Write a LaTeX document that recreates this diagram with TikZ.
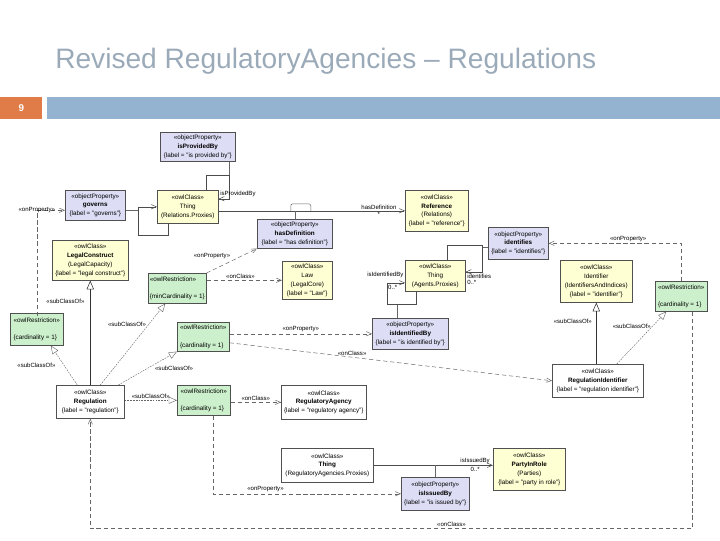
\documentclass[tikz,border=0pt]{standalone}
\usepackage{fontspec}
\setmainfont{Liberation Sans}
\usepackage{xcolor}
\usetikzlibrary{arrows, positioning, shadows, calc}

\definecolor{titlegray}{RGB}{155,170,185}
\definecolor{barblue}{RGB}{148,179,208}
\definecolor{numorange}{RGB}{224,124,72}
\definecolor{clsyellow}{RGB}{255,255,212}
\definecolor{proplav}{RGB}{221,221,245}
\definecolor{restrgreen}{RGB}{204,240,204}
\definecolor{boxline}{RGB}{80,80,80}

\newlength{\px}
\setlength{\px}{0.025cm}

\begin{document}
\begin{tikzpicture}[
    x=0.025cm, y=-0.025cm,
    font=\fontsize{4.5}{6.2}\selectfont,
    dims/.style 2 args={minimum width=#1\px, minimum height=#2\px},
    base/.style={rectangle, draw=boxline, line width=0.4pt, align=center, inner sep=1pt, anchor=north west,
        drop shadow={shadow xshift=0.8pt, shadow yshift=-0.8pt, opacity=0.35}},
    class/.style={base, fill=clsyellow},
    plain/.style={base, fill=white},
    prop/.style={base, fill=proplav},
    restr/.style={base, fill=restrgreen, align=left},
    lbl/.style={inner sep=1pt, font=\fontsize{4.3}{5}\selectfont},
    assoc/.style={->, >=angle 45, draw=black!70, line width=0.35pt},
    link/.style={draw=black!60, line width=0.35pt},
    dep/.style={->, >=angle 45, draw=black!60, dash pattern=on 3pt off 2pt, line width=0.35pt},
    inherit/.style={->, >=open triangle 45, draw=black!80, line width=0.4pt},
    restrict/.style={->, >=open triangle 45, draw=black!60, line width=0.3pt, dash pattern=on 1.2pt off 0.8pt}
]
    \useasboundingbox (0,0) rectangle (720,540);

    % Slide header
    \node[anchor=base west, inner sep=0, text=titlegray, font=\fontsize{20}{24}\selectfont] (title) at (55,68)
        {Revised RegulatoryAgencies – Regulations};
    \node[anchor=north west, inner sep=0, fill=numorange, dims={42}{22}, text=white, font=\bfseries\fontsize{7}{8}\selectfont] (pagenum) at (0,97) {9};
    \node[anchor=north west, inner sep=0, fill=barblue, dims={673}{22}] (bar) at (47,97) {};

    % Object properties
    \node[prop, dims={75}{29}] (isprov) at (160,132) {«objectProperty»\\\textbf{isProvidedBy}\\\{label = "is provided by"\}};
    \node[prop, dims={60}{30}] (governs) at (65,190) {«objectProperty»\\\textbf{governs}\\\{label = "governs"\}};
    \node[prop, dims={75}{29}] (hasdef) at (257,219) {«objectProperty»\\\textbf{hasDefinition}\\\{label = "has definition"\}};
    \node[prop, dims={60}{32}] (ident) at (488,227) {«objectProperty»\\\textbf{identifies}\\\{label = "identifies"\}};
    \node[prop, dims={76}{31}] (idby) at (372,318) {«objectProperty»\\\textbf{isIdentifiedBy}\\\{label = "is identified by"\}};
    \node[prop, dims={68}{33}] (issued) at (401,477) {«objectProperty»\\\textbf{isIssuedBy}\\\{label = "is issued by"\}};

    % Classes
    \node[class, dims={61}{33}] (thingrel) at (157,190) {«owlClass»\\Thing\\(Relations.Proxies)};
    \node[class, dims={63}{41}] (reference) at (405,190) {«owlClass»\\\textbf{Reference}\\(Relations)\\\{label = "reference"\}};
    \node[class, dims={76}{40}] (legal) at (52,240) {«owlClass»\\\textbf{LegalConstruct}\\(LegalCapacity)\\\{label = "legal construct"\}};
    \node[class, dims={50}{38}] (law) at (282,261) {«owlClass»\\Law\\(LegalCore)\\\{label = "Law"\}};
    \node[class, dims={60}{31}] (thingag) at (405,260) {«owlClass»\\Thing\\(Agents.Proxies)};
    \node[class, dims={72}{42}] (identifier) at (560,260) {«owlClass»\\Identifier\\(IdentifiersAndIndices)\\\{label = "identifier"\}};
    \node[class, dims={72}{42}] (party) at (493,448) {«owlClass»\\\textbf{PartyInRole}\\(Parties)\\\{label = "party in role"\}};
    \node[plain, dims={68}{33}] (reg) at (56,385) {«owlClass»\\\textbf{Regulation}\\\{label = "regulation"\}};
    \node[plain, dims={85}{34}] (regag) at (281,385) {«owlClass»\\\textbf{RegulatoryAgency}\\\{label = "regulatory agency"\}};
    \node[plain, dims={91}{33}] (regid) at (552,364) {«owlClass»\\\textbf{RegulationIdentifier}\\\{label = "regulation identifier"\}};
    \node[plain, dims={92}{34}] (thingra) at (281,448) {«owlClass»\\\textbf{Thing}\\(RegulatoryAgencies.Proxies)};

    % Restrictions
    \node[restr, dims={58}{30}] (minr) at (148,273) {«owlRestriction»\\~\\\{minCardinality = 1\}};
    \node[restr, dims={53}{32}] (lr) at (10,313) {«owlRestriction»\\~\\\{cardinality = 1\}};
    \node[restr, dims={52}{29}] (mr) at (177,322) {«owlRestriction»\\~\\\{cardinality = 1\}};
    \node[restr, dims={53}{30}] (lowr) at (177,385) {«owlRestriction»\\~\\\{cardinality = 1\}};
    \node[restr, dims={52}{30}] (rr) at (655,281) {«owlRestriction»\\~\\\{cardinality = 1\}};

    % Associations
    \draw[assoc] ([xshift=11\px]thingrel.south west) -- ++(0,12) -- ++(-30,0) coordinate (govloop) |- (thingrel.west);
    \draw[link] ([yshift=-5\px]governs.east) -- ([yshift=-5\px]governs.east -| govloop);
    \draw[assoc] ([xshift=-12\px]thingrel.north east) -- ++(0,-15) -- ++(23,0) coordinate (provloop) |- ([yshift=8\px]thingrel.east);
    \draw[link] (isprov.south -| provloop) -- (provloop);
    \node[lbl, anchor=west] (provlbl) at ([yshift=13\px]thingrel.east) {isProvidedBy};
    \draw[assoc] (thingrel.east |- reference.west) -- node[lbl, pos=0.86, above] {hasDefinition} node[lbl, pos=0.86, below] {*} (reference.west);
    \draw[link] (hasdef.north) -- (hasdef.north |- reference.west);
    \draw[link, rounded corners=1.5pt] ([xshift=-4\px]hasdef.north |- reference.west) -- ++(0,-7) -- ++(20,0) -- ++(0,7);
    \draw[assoc] ([xshift=11\px]thingag.south west) -- ++(0,13) -- ++(-29,0) coordinate (idloop) |- ([yshift=-7\px]thingag.west);
    \draw[link] ([xshift=-13\px]idby.north) -- ([xshift=-13\px]idby.north |- idloop);
    \node[lbl, anchor=south east] (idbylbl) at ([yshift=-4\px]thingag.west) {isIdentifiedBy};
    \node[lbl, anchor=north east] (idbymul) at ([xshift=-6\px, yshift=-8\px]thingag.west) {0..*};
    \draw[assoc] ([xshift=-18\px]thingag.north east) -- ++(0,-15) -- ++(35,0) coordinate (identloop) |- ([yshift=4\px]thingag.east);
    \draw[link] ([yshift=-4\px]ident.west) -- ([yshift=-4\px]ident.west -| identloop);
    \node[lbl, anchor=north west] (identlbl) at ([yshift=3\px]thingag.east) {identifies};
    \node[lbl, anchor=north west] (identmul) at ([yshift=-3\px]thingag.east) {0..*};
    \draw[assoc] (thingra.east) -- node[lbl, pos=0.85, above] {isIssuedBy} node[lbl, pos=0.85, below] {0..*} (thingra.east -| party.west);
    \draw[link] (issued.north) -- (issued.north |- thingra.east);

    % Generalisations
    \draw[inherit] (reg.north -| legal.south) -- node[lbl, pos=0.8, left=3pt] {«subClassOf»} (legal.south);
    \draw[restrict] ([xshift=-13\px]reg.north) -- node[lbl, pos=0.5, left=5pt] {«subClassOf»} ([xshift=14\px]lr.south);
    \draw[restrict] ([xshift=10\px]reg.north) -- node[lbl, pos=0.75, left=1pt] {«subClassOf»} ([xshift=-12\px]minr.south);
    \draw[restrict] ([xshift=28\px]reg.north) -- node[lbl, pos=0.6, below right] {«subClassOf»} (mr.south west);
    \draw[restrict] (reg.east |- lowr.west) -- node[lbl, above] {«subClassOf»} (lowr.west);
    \draw[inherit] (regid.north -| identifier.south) -- node[lbl, pos=0.7, left=2pt] {«subClassOf»} (identifier.south);
    \draw[restrict] ([xshift=19\px]regid.north) -- node[lbl, pos=0.72, left] {«subClassOf»} ([xshift=-15\px]rr.south);

    % Restriction properties and classes
    \draw[dep] ([yshift=-3\px]lr.north) |- node[lbl, pos=0.5] {«onProperty»} ([yshift=-5\px]governs.west);
    \draw[dep] (minr.north east) -- node[lbl, pos=0.5, above left=0pt] {«onProperty»} (hasdef.south west);
    \draw[dep] (minr.east |- law.west) -- node[lbl, pos=0.45, above] {«onClass»} (law.west);
    \draw[dep] (mr.east |- idby.west) -- node[lbl, pos=0.5, above] {«onProperty»} (idby.west);
    \draw[dep] ([yshift=-6\px]mr.east) -- node[lbl, pos=0.38, above] {«onClass»} (regid.west);
    \draw[dep] (lowr.east |- regag.west) -- node[lbl, above] {«onClass»} (regag.west);
    \draw[dep] ([xshift=9\px]lowr.south) |- node[lbl, pos=0.64, above] {«onProperty»} (issued.west);
    \draw[dep] (rr.north) |- node[lbl, pos=0.7, above] {«onProperty»} (ident.east);
    \draw[dep] ([xshift=11\px]rr.south) -- ++(0,217) -| node[lbl, pos=0.2, above] {«onClass»} (reg.south);
\end{tikzpicture}
\end{document}
